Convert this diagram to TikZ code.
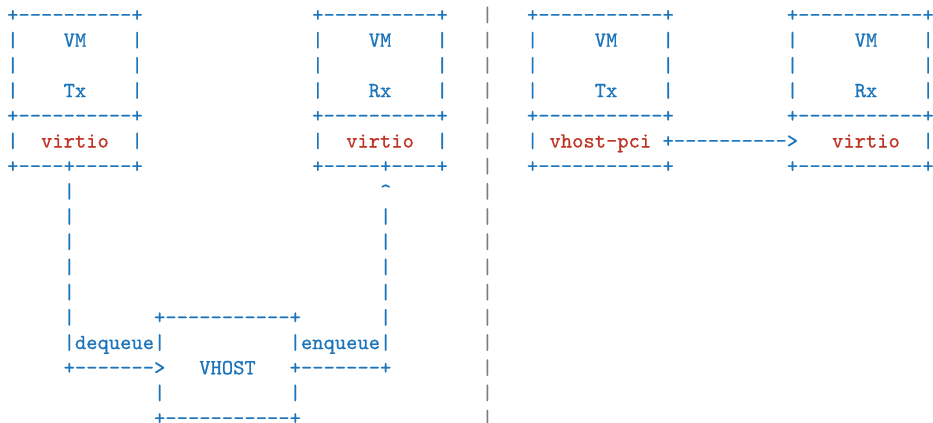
\documentclass[tikz,border=0pt]{standalone}
\usepackage{fontspec}
\setmonofont{lmmono10-regular.otf}[FakeBold=0.8]
\definecolor{wire}{RGB}{28,116,186}
\definecolor{devname}{RGB}{192,52,38}
\definecolor{rulegray}{RGB}{125,125,125}
\tikzset{
  glyph/.style={anchor=base west, inner sep=0pt, outer sep=0pt,
    font=\ttfamily\fontsize{21.52bp}{25.2bp}\selectfont, text=wire},
  devlabel/.style={glyph, text=devname},
  divider/.style={glyph, text=rulegray},
}
\begin{document}
\begin{tikzpicture}
\useasboundingbox (0,0) rectangle (933bp,-423bp);
% character grid: one unit = one monospace cell / one text line
\begin{scope}[shift={(7.15bp,-21.5bp)}, x=11.30bp, y=-25.2bp, every node/.style={glyph}]
  % vertical divider between the two set-ups
  \foreach \r in {0,...,16} \node[divider] (sep\r) at (42,\r) {|};

  % VM frames: top and middle borders
  \foreach \r/\n in {0/top,4/mid} {
    \node (tx\n)  at (0,\r)  {+----------+};
    \node (rx\n)  at (27,\r) {+----------+};
    \node (ptx\n) at (46,\r) {+-----------+};
    \node (prx\n) at (69,\r) {+-----------+};
  }
  % VM frames: side walls
  \foreach \r in {1,2,3}
    \foreach \c in {0,11,27,38,46,58,69,81}
      \node (wall\c-\r) at (\c,\r) {|};
  \foreach \c in {0,11,27,38,46,81}
    \node (wall\c-5) at (\c,5) {|};

  % VM captions
  \node (vm1) at (5,1)  {VM};
  \node (vm2) at (32,1) {VM};
  \node (vm3) at (52,1) {VM};
  \node (vm4) at (75,1) {VM};
  \node (tx1) at (5,3)  {Tx};
  \node (rx1) at (32,3) {Rx};
  \node (tx2) at (52,3) {Tx};
  \node (rx2) at (75,3) {Rx};

  % device row
  \node[devlabel] (virtioA) at (3,5)  {virtio};
  \node[devlabel] (virtioB) at (30,5) {virtio};
  \node[devlabel] (vhostpci) at (48,5) {vhost-pci};
  \node (direct) at (58,5) {+---------->};
  \node[devlabel] (virtioC) at (73,5) {virtio};

  % bottom borders
  \node (txbot)  at (0,6)  {+----+-----+};
  \node (rxbot)  at (27,6) {+-----+----+};
  \node (ptxbot) at (46,6) {+-----------+};
  \node (prxbot) at (69,6) {+-----------+};

  % paths down to the backend
  \foreach \r in {7,...,12} \node (down\r) at (5,\r) {|};
  \node (up7) at (33,7) {\textasciicircum};
  \foreach \r in {8,...,12} \node (up\r) at (33,\r) {|};

  % VHOST backend
  \node (vhtop) at (13,12) {+-----------+};
  \node (deq)   at (5,13)  {|dequeue|};
  \node (enq)   at (25,13) {|enqueue|};
  \node (deqarrow) at (5,14) {+------->};
  \node (vhost) at (17,14) {VHOST};
  \node (enqline) at (25,14) {+-------+};
  \node (vhwallL) at (13,15) {|};
  \node (vhwallR) at (25,15) {|};
  \node (vhbot) at (13,16) {+-----------+};
\end{scope}
\end{tikzpicture}
\end{document}
